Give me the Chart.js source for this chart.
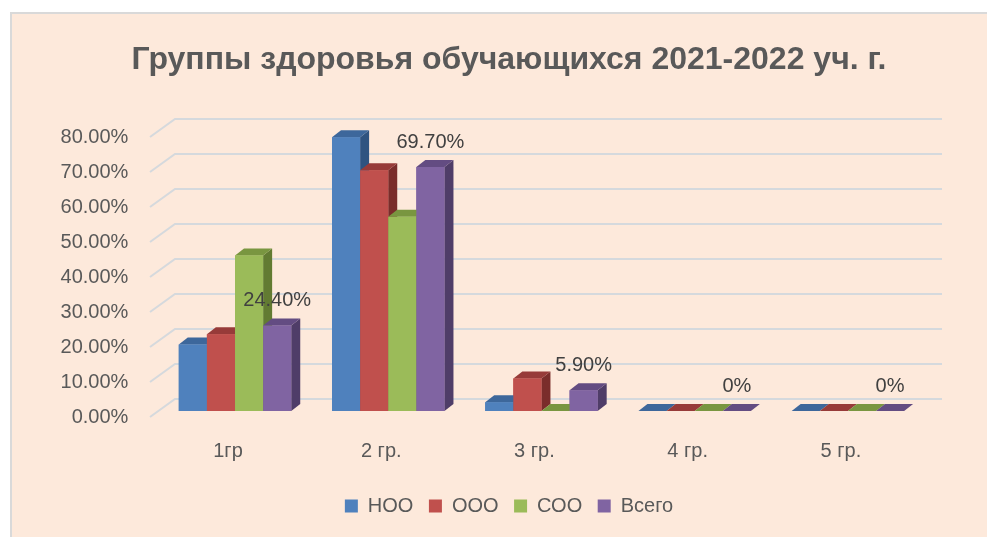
<!DOCTYPE html>
<html>
<head>
<meta charset="utf-8">
<script src="https://cdn.jsdelivr.net/npm/chart.js@4.4.0/dist/chart.umd.min.js"></script>
<style>
  html, body { margin: 0; padding: 0; background: #ffffff; }
  #wrap { width: 987px; height: 537px; position: relative; }
  canvas { display: block; }
</style>
</head>
<body>
<div id="wrap"><canvas id="c" width="987" height="537"></canvas></div>
<script>
// ---- data ----
const chartTitle = 'Группы здоровья обучающихся 2021-2022 уч. г.';
const categories = ['1гр', '2 гр.', '3 гр.', '4 гр.', '5 гр.'];
const seriesNames = ['НОО', 'ООО', 'СОО', 'Всего'];
const nooValues = [0.19, 0.782, 0.025, 0, 0];
const oooValues = [0.219, 0.688, 0.093, 0, 0];
const sooValues = [0.444, 0.555, 0, 0, 0];
const totalValues = [0.244, 0.697, 0.059, 0, 0];
const yTicksMin = 0, yTicksMax = 0.8, yTickStep = 0.1;

// ---- styles ----
const frontColors = ['#4F81BD', '#C0504D', '#9BBB59', '#8064A2'];
const topColors   = ['#3D679B', '#973B39', '#799640', '#634C82'];
const sideColors  = ['#2F5380', '#7A2D2B', '#627B32', '#4F3D68'];
const textGray = '#595959';
const FONT = "'Liberation Sans', Arial, sans-serif";
const DX = 9, DY = -7;          // bar depth projection
const WALL_FRONT = { dx: -8.4, dy: 6 };   // front plane offset relative to bar plane
const WALL_BACK  = { dx: 16.6, dy: -12 };  // back wall offset relative to bar plane

const bgPlugin = {
  id: 'bg',
  beforeDraw(chart) {
    const ctx = chart.ctx;
    ctx.save();
    ctx.fillStyle = '#ffffff';
    ctx.fillRect(0, 0, chart.width, chart.height);
    ctx.fillStyle = '#FDE9DB';
    ctx.fillRect(10, 12, chart.width - 10, chart.height - 12);
    ctx.strokeStyle = '#D9D9D9';
    ctx.lineWidth = 2;
    ctx.beginPath();
    ctx.moveTo(11, chart.height);
    ctx.lineTo(11, 13);
    ctx.lineTo(chart.width, 13);
    ctx.stroke();
    ctx.restore();
  }
};

const gridPlugin = {
  id: 'grid3d',
  beforeDatasetsDraw(chart) {
    const ctx = chart.ctx;
    const ys = chart.scales.y;
    const area = chart.chartArea;
    ctx.save();
    ctx.strokeStyle = '#D5D9DD';
    ctx.lineWidth = 2;
    ys.ticks.forEach(t => {
      const y = ys.getPixelForValue(t.value);
      ctx.beginPath();
      ctx.moveTo(area.left + WALL_FRONT.dx, y + WALL_FRONT.dy);
      ctx.lineTo(area.left + WALL_BACK.dx, y + WALL_BACK.dy);
      ctx.lineTo(area.right + 17.5, y + WALL_BACK.dy);
      ctx.stroke();
    });
    ctx.restore();
  }
};

const barsPlugin = {
  id: 'bars3d',
  afterDatasetsDraw(chart) {
    const ctx = chart.ctx;
    const nCat = categories.length;
    const nDs = chart.data.datasets.length;
    ctx.save();
    for (let i = 0; i < nCat; i++) {
      for (let d = 0; d < nDs; d++) {
        const meta = chart.getDatasetMeta(d);
        const bar = meta.data[i];
        const p = bar.getProps(['x', 'y', 'base', 'width'], true);
        const left = p.x - p.width / 2, right = p.x + p.width / 2;
        // side face
        ctx.fillStyle = sideColors[d];
        ctx.beginPath();
        ctx.moveTo(right, p.y);
        ctx.lineTo(right + DX, p.y + DY);
        ctx.lineTo(right + DX, p.base + DY);
        ctx.lineTo(right, p.base);
        ctx.closePath();
        ctx.fill();
        // top face
        ctx.fillStyle = topColors[d];
        ctx.beginPath();
        ctx.moveTo(left, p.y);
        ctx.lineTo(left + DX, p.y + DY);
        ctx.lineTo(right + DX, p.y + DY);
        ctx.lineTo(right, p.y);
        ctx.closePath();
        ctx.fill();
        // front face (redraw for painter order)
        bar.draw(ctx);
      }
    }
    // data labels for last series
    const lastIdx = nDs - 1;
    const meta = chart.getDatasetMeta(lastIdx);
    ctx.fillStyle = '#404040';
    ctx.font = '20px ' + FONT;
    ctx.textAlign = 'center';
    ctx.textBaseline = 'middle';
    meta.data.forEach((bar, i) => {
      const v = chart.data.datasets[lastIdx].data[i];
      const txt = v === 0 ? '0%' : (Math.round(v * 10000) / 100).toFixed(2) + '%';
      ctx.fillText(txt, bar.x, bar.y - 25);
    });
    ctx.restore();
  }
};

const seriesValues = [nooValues, oooValues, sooValues, totalValues];

new Chart(document.getElementById('c'), {
  type: 'bar',
  data: {
    labels: categories,
    datasets: seriesNames.map((name, i) => ({
      label: name,
      data: seriesValues[i],
      backgroundColor: frontColors[i],
      borderWidth: 0,
      barPercentage: 1.0,
      categoryPercentage: 0.734
    }))
  },
  plugins: [bgPlugin, gridPlugin, barsPlugin],
  options: {
    responsive: false,
    animation: false,
    devicePixelRatio: 1,
    layout: { padding: { left: 31, right: 0, top: 0, bottom: 11 } },
    plugins: {
      title: {
        display: true,
        text: chartTitle,
        color: textGray,
        font: { family: FONT, size: 32, weight: 'bold', lineHeight: 1.2 },
        padding: { top: 41, bottom: 51.6 }
      },
      legend: {
        display: true,
        position: 'bottom',
        labels: {
          color: textGray,
          font: { family: FONT, size: 20 },
          boxWidth: 13,
          boxHeight: 13,
          padding: 15.5
        }
      },
      tooltip: { enabled: false }
    },
    scales: {
      x: {
        type: 'category',
        offset: true,
        grid: { display: false, drawTicks: false },
        border: { display: false },
        ticks: {
          color: textGray,
          font: { family: FONT, size: 20 },
          padding: 28,
          labelOffset: -7,
          maxRotation: 0
        },
        afterFit(scale) { scale.height = 69.5; }
      },
      y: {
        min: yTicksMin,
        max: yTicksMax,
        grid: { display: false, drawTicks: false },
        border: { display: false },
        ticks: {
          stepSize: yTickStep,
          color: textGray,
          font: { family: FONT, size: 20 },
          padding: 30,
          labelOffset: 6,
          callback: v => (Math.round(v * 10000) / 100).toFixed(2) + '%'
        },
        afterFit(scale) { scale.width = 127.4; }
      },
      y2: {
        type: 'linear',
        position: 'right',
        display: true,
        min: yTicksMin,
        max: yTicksMax,
        grid: { display: false, drawTicks: false },
        border: { display: false },
        ticks: { display: false },
        afterFit(scale) { scale.width = 62.5; }
      }
    }
  }
});
</script>
</body>
</html>
